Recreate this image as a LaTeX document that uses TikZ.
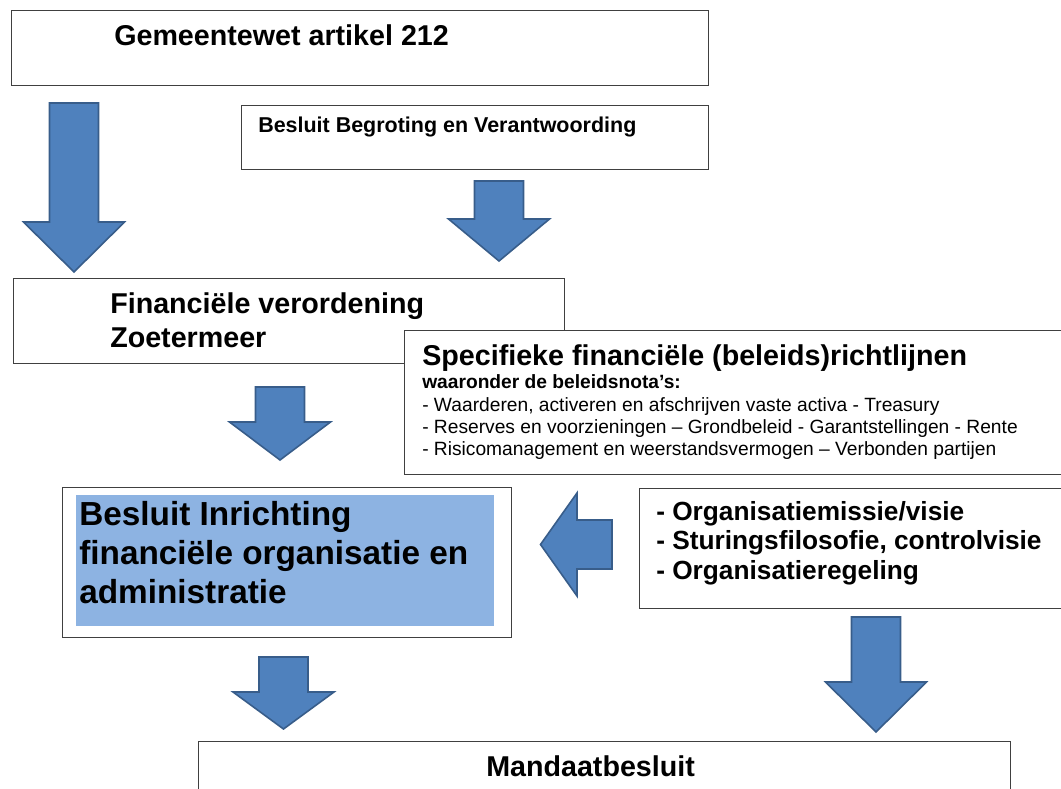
\documentclass[tikz,border=0pt]{standalone}
\usepackage{fontspec}
\setmainfont{Liberation Sans}
\definecolor{arrowblue}{RGB}{79,129,189}
\definecolor{arrowedge}{RGB}{56,93,138}
\definecolor{panelblue}{RGB}{141,179,226}
\tikzset{
  boxframe/.style={draw=black!75, line width=1.1pt, fill=white, inner sep=0pt, anchor=north west},
  txt/.style={inner sep=0pt, anchor=base west, align=left},
  blockarrow/.style={fill=arrowblue, draw=arrowedge, line width=1.2pt}
}

\begin{document}
\begin{tikzpicture}[x=0.75pt, y=-0.75pt]
\useasboundingbox (0,0) rectangle (1061,789);
\clip (0,0) rectangle (1061,789);
\node[boxframe, minimum width=522.75pt, minimum height=56.25pt] (wet) at (11,10) {};
\node[boxframe, minimum width=350.5pt, minimum height=48.2pt] (bbv) at (240.6,104.7) {};
\node[boxframe, minimum width=413.25pt, minimum height=63.4pt] (verordening) at (13,278) {};
\node[boxframe, minimum width=503.25pt, minimum height=108pt] (richtlijnen) at (404,330) {};
\node[boxframe, minimum width=336.75pt, minimum height=112.5pt] (inrichting) at (62,487) {};
\node[fill=panelblue, inner sep=0pt, anchor=north west, minimum width=313.5pt, minimum height=98.25pt] (panel) at (76,495) {};
\node[boxframe, minimum width=327pt, minimum height=90pt] (organisatie) at (639,488) {};
\node[boxframe, minimum width=609pt, minimum height=44.25pt] (mandaat) at (198,741) {};

\foreach \cx/\ytop/\yneck/\ytip in {74/103/222/272, 499/181/219/261, 280/387/422/460, 283.5/657/692/729, 876/617/682/732} {
  \filldraw[blockarrow] ({\cx-24.5},\ytop) -- ({\cx+24.5},\ytop) -- ({\cx+24.5},\yneck) -- ({\cx+50.5},\yneck)
    -- (\cx,\ytip) -- ({\cx-50.5},\yneck) -- ({\cx-24.5},\yneck) -- cycle;
}
\filldraw[blockarrow] (612,520) -- (577,520) -- (577,493) -- (540.5,544.5) -- (577,596) -- (577,569) -- (612,569) -- cycle;

\node[txt, font=\fontsize{21.5}{25.5}\selectfont\bfseries] (wetText) at (114,45.7) {Gemeentewet artikel 212};
\node[txt, font=\fontsize{16.1}{19}\selectfont\bfseries] (bbvText) at (258,132.7) {Besluit Begroting en Verantwoording};
\node[txt, font=\fontsize{21.5}{25.5}\selectfont\bfseries] (verordeningText) at (110,347) {Financiële verordening\\Zoetermeer};
\node[txt, font=\fontsize{21.5}{25.5}\selectfont\bfseries] (richtlijnenText) at (422,365) {Specifieke financiële (beleids)richtlijnen};
\node[txt, font=\fontsize{14.4}{16.3}\selectfont\bfseries] (notaText) at (422,388) {waaronder de beleidsnota’s:};
\node[txt, font=\fontsize{14.4}{16.3}\selectfont] (notaList) at (422,455) {- Waarderen, activeren en afschrijven vaste activa - Treasury\\- Reserves en voorzieningen – Grondbeleid - Garantstellingen - Rente\\- Risicomanagement en weerstandsvermogen – Verbonden partijen};
\node[txt, font=\fontsize{25}{29.25}\selectfont\bfseries] (inrichtingText) at (79,603) {Besluit Inrichting\\financiële organisatie en\\administratie};
\node[txt, font=\fontsize{19.7}{22.1}\selectfont\bfseries] (organisatieText) at (656,579) {- Organisatiemissie/visie\\- Sturingsfilosofie, controlvisie\\- Organisatieregeling};
\node[txt, font=\fontsize{21.5}{25.5}\selectfont\bfseries] (mandaatText) at (486,776) {Mandaatbesluit};
\end{tikzpicture}
\end{document}
